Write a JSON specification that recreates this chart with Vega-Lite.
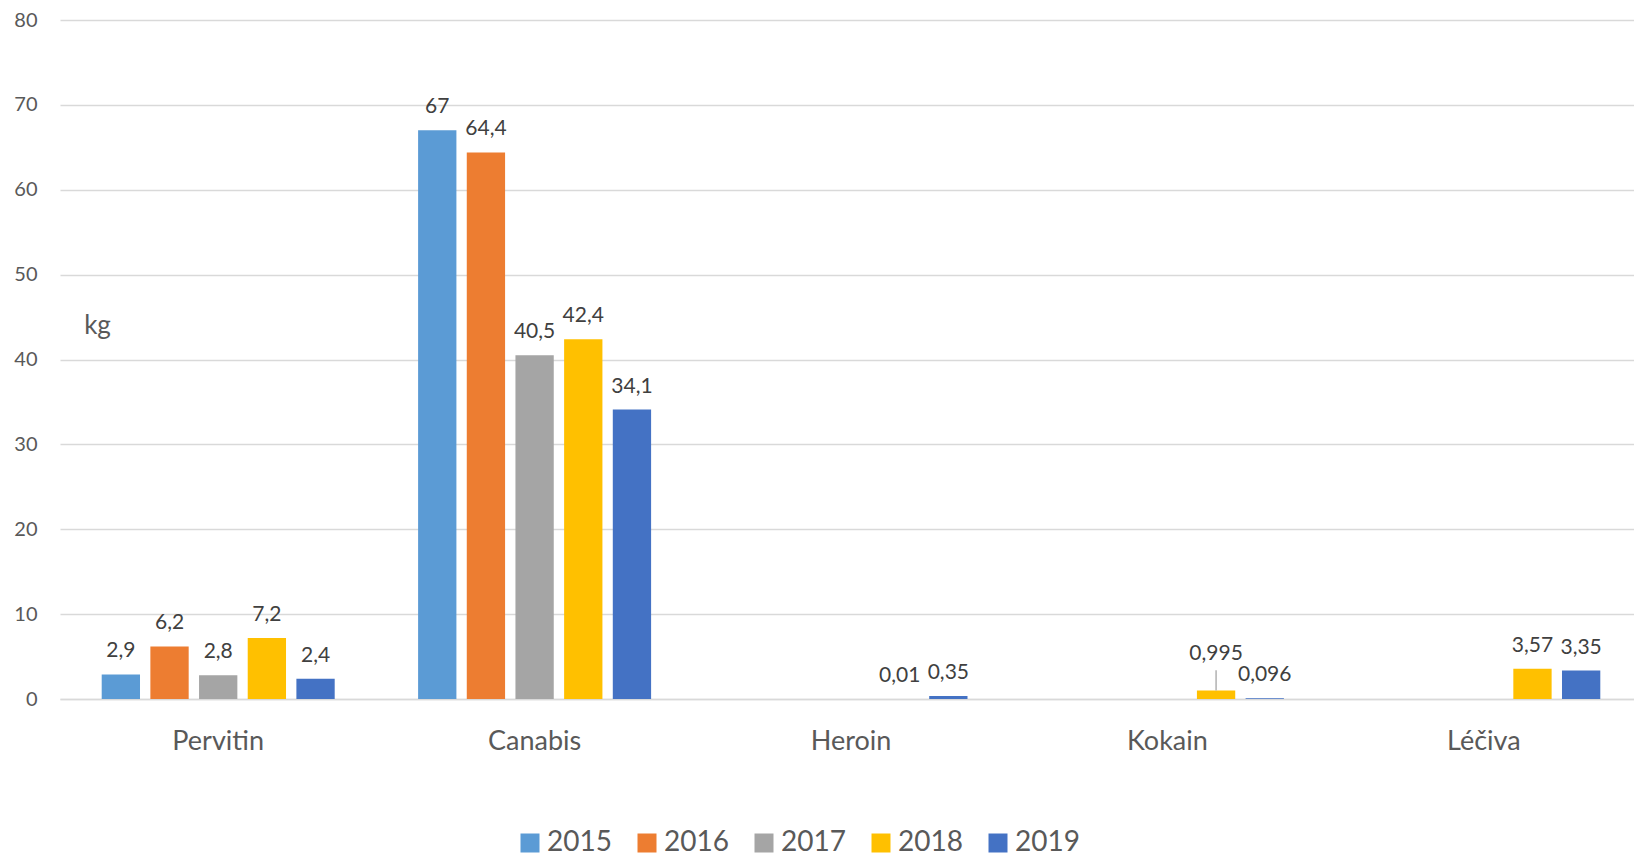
{
  "$schema": "https://vega.github.io/schema/vega-lite/v6.json",
  "width": 1574,
  "height": 679,
  "autosize": {"type": "none"},
  "padding": {"left": 60, "top": 20, "right": 0, "bottom": 158},
  "config": {
    "font": "Lato",
    "view": {"stroke": null},
    "background": "white"
  },
  "data": {
    "values": [
      {"drug": "Pervitin", "year": "2015", "value": 2.9, "label": "2,9"},
      {"drug": "Pervitin", "year": "2016", "value": 6.2, "label": "6,2"},
      {"drug": "Pervitin", "year": "2017", "value": 2.8, "label": "2,8"},
      {"drug": "Pervitin", "year": "2018", "value": 7.2, "label": "7,2"},
      {"drug": "Pervitin", "year": "2019", "value": 2.4, "label": "2,4"},
      {"drug": "Canabis", "year": "2015", "value": 67, "label": "67"},
      {"drug": "Canabis", "year": "2016", "value": 64.4, "label": "64,4"},
      {"drug": "Canabis", "year": "2017", "value": 40.5, "label": "40,5"},
      {"drug": "Canabis", "year": "2018", "value": 42.4, "label": "42,4"},
      {"drug": "Canabis", "year": "2019", "value": 34.1, "label": "34,1"},
      {"drug": "Heroin", "year": "2018", "value": 0.01, "label": "0,01"},
      {"drug": "Heroin", "year": "2019", "value": 0.35, "label": "0,35"},
      {"drug": "Kokain", "year": "2018", "value": 0.995, "label": "0,995"},
      {"drug": "Kokain", "year": "2019", "value": 0.096, "label": "0,096"},
      {"drug": "Léčiva", "year": "2018", "value": 3.57, "label": "3,57"},
      {"drug": "Léčiva", "year": "2019", "value": 3.35, "label": "3,35"}
    ]
  },
  "encoding": {
    "x": {
      "field": "drug",
      "type": "nominal",
      "sort": ["Pervitin", "Canabis", "Heroin", "Kokain", "Léčiva"],
      "scale": {"range": [0, 1582], "paddingInner": 0.2636, "paddingOuter": 0.1318},
      "axis": {
        "title": null,
        "labelAngle": 0,
        "labelFontSize": 27,
        "labelColor": "#595959",
        "labelPadding": 29,
        "ticks": false,
        "domain": true,
        "domainColor": "#D9D9D9",
        "domainWidth": 1.3,
        "grid": false
      }
    },
    "xOffset": {
      "field": "year",
      "type": "nominal",
      "scale": {"domain": ["2015", "2016", "2017", "2018", "2019"], "paddingInner": 0.213, "paddingOuter": 0}
    },
    "y": {
      "field": "value",
      "type": "quantitative",
      "scale": {"domain": [0, 80], "nice": false},
      "axis": {
        "title": "kg",
        "titleAngle": 0,
        "titleX": 37,
        "titleY": 305,
        "titleAlign": "center",
        "titleBaseline": "middle",
        "titleFontSize": 26,
        "titleFontWeight": "normal",
        "titleColor": "#595959",
        "values": [0, 10, 20, 30, 40, 50, 60, 70, 80],
        "labelFontSize": 20,
        "labelColor": "#595959",
        "labelPadding": 23,
        "ticks": false,
        "domain": false,
        "grid": true,
        "gridColor": "#D9D9D9",
        "gridWidth": 1.3
      }
    }
  },
  "layer": [
    {
      "mark": {"type": "bar"},
      "encoding": {
        "color": {
          "field": "year",
          "type": "nominal",
          "scale": {
            "domain": ["2015", "2016", "2017", "2018", "2019"],
            "range": ["#5B9BD5", "#ED7D31", "#A5A5A5", "#FFC000", "#4472C4"]
          },
          "legend": {
            "title": null,
            "orient": "none",
            "direction": "horizontal",
            "legendX": 456,
            "legendY": 809,
            "symbolType": "square",
            "symbolSize": 361,
            "symbolStrokeWidth": 0,
            "symbolOpacity": 1,
            "labelFontSize": 28,
            "labelColor": "#595959",
            "labelOffset": 3,
            "columnPadding": 21
          }
        }
      }
    },
    {
      "transform": [{"filter": "!(datum.drug === 'Kokain' && datum.year === '2018')"}],
      "mark": {"type": "text", "dy": -17, "baseline": "alphabetic", "fontSize": 21, "color": "#404040"},
      "encoding": {"text": {"field": "label"}}
    },
    {
      "transform": [{"filter": "datum.drug === 'Kokain' && datum.year === '2018'"}],
      "mark": {"type": "text", "dy": -31, "baseline": "alphabetic", "fontSize": 21, "color": "#404040"},
      "encoding": {"text": {"field": "label"}}
    },
    {
      "transform": [{"filter": "datum.drug === 'Kokain' && datum.year === '2018'"}],
      "mark": {"type": "rule", "color": "#A6A6A6", "strokeWidth": 1.3},
      "encoding": {"y2": {"datum": 3.4}}
    }
  ]
}
